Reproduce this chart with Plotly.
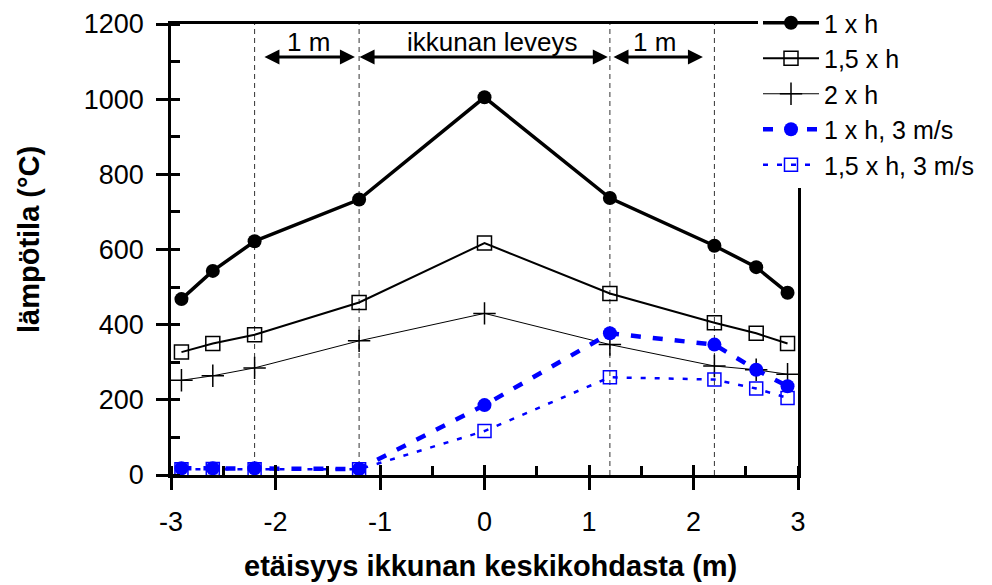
import plotly.graph_objects as go

# ---- data ----
x_pos = [-2.9, -2.6, -2.2, -1.2, 0, 1.2, 2.2, 2.6, 2.9]
s_1xh = [468, 543, 622, 733, 1005, 737, 610, 553, 485]
s_15xh = [327, 350, 373, 459, 617, 483, 405, 377, 350]
s_2xh = [252, 264, 285, 357, 430, 347, 290, 280, 268]
s_1xh_wind = [18, 18, 18, 16, 186, 377, 347, 280, 236]
s_15xh_wind = [15, 16, 15, 15, 117, 260, 254, 230, 205]
names = ["1 x h", "1,5 x h", "2 x h", "1 x h, 3 m/s", "1,5 x h, 3 m/s"]

window_edges = [-2.2, -1.2, 1.2, 2.2]
span_labels = ["1 m", "ikkunan leveys", "1 m"]
span_label_x = [-1.68, 0.08, 1.63]
span_starts = [-2.12, -1.21, 1.22]
span_ends = [-1.24, 1.18, 2.09]
span_arrow_y = 1112
span_label_y = 1152

FONT = "Liberation Sans, Arial, sans-serif"
BLUE = "#0000ff"

fig = go.Figure()
fig.add_trace(go.Scatter(x=x_pos, y=s_1xh, name=names[0], mode="lines+markers",
                         line=dict(color="black", width=3.5),
                         marker=dict(symbol="circle", size=14, color="black"),
                         legendgroup="a"))
fig.add_trace(go.Scatter(x=x_pos, y=s_15xh, name=names[1], mode="lines+markers",
                         line=dict(color="black", width=2),
                         marker=dict(symbol="square-open", size=14, color="black", line=dict(width=1.5)),
                         legendgroup="b"))
fig.add_trace(go.Scatter(x=x_pos, y=s_2xh, name=names[2], mode="lines+markers",
                         line=dict(color="black", width=1),
                         marker=dict(symbol="cross-thin-open", size=16, color="black", line=dict(width=1.5, color="black")),
                         legendgroup="c"))
fig.add_trace(go.Scatter(x=x_pos, y=s_1xh_wind, name=names[3], mode="lines+markers",
                         line=dict(color=BLUE, width=4.5, dash="10px,12px"),
                         marker=dict(symbol="circle", size=14, color=BLUE),
                         legendgroup="d"))
fig.add_trace(go.Scatter(x=x_pos, y=s_15xh_wind, name=names[4], mode="lines+markers",
                         line=dict(color=BLUE, width=2.5, dash="5px,9px"),
                         marker=dict(symbol="square-open", size=13, color=BLUE, line=dict(width=1.5)),
                         legendgroup="e"))

for xe in window_edges:
    fig.add_shape(type="line", x0=xe, x1=xe, y0=0, y1=1200, xref="x", yref="y",
                  line=dict(color="#333333", width=1, dash="5px,4px"), layer="below")

annotations = []
for lbl, lx, xs, xe in zip(span_labels, span_label_x, span_starts, span_ends):
    annotations.append(dict(x=xe, y=span_arrow_y, ax=xs, ay=span_arrow_y, xref="x", yref="y",
                            axref="x", ayref="y", text="", showarrow=True, arrowhead=2,
                            arrowside="end+start", arrowsize=1, arrowwidth=3, arrowcolor="black",
                            standoff=0, startstandoff=0))
    annotations.append(dict(x=lx, y=span_label_y, xref="x", yref="y", text=lbl, showarrow=False,
                            font=dict(size=26, color="black", family=FONT)))

W, H = 992, 585
L, R, T, B = 171, 194, 24, 110
pw, ph = W - L - R, H - T - B

def px_to_paper(px, py):
    return (px - L) / pw, (H - B - py) / ph

yt_x, yt_y = px_to_paper(29, 240)
xt_x, xt_y = px_to_paper(490, 566)
annotations.append(dict(x=yt_x, y=yt_y, xref="paper", yref="paper", text="<b>lämpötila (°C)</b>",
                        showarrow=False, textangle=-90, xanchor="center", yanchor="middle",
                        font=dict(size=29, color="black", family=FONT)))
annotations.append(dict(x=xt_x, y=xt_y, xref="paper", yref="paper",
                        text="<b>etäisyys ikkunan keskikohdasta (m)</b>",
                        showarrow=False, xanchor="center", yanchor="middle",
                        font=dict(size=29, color="black", family=FONT)))

fig.update_layout(
    width=W, height=H,
    margin=dict(l=L, r=R, t=T, b=B, pad=0, autoexpand=False),
    paper_bgcolor="white", plot_bgcolor="white",
    font=dict(family=FONT, size=26, color="black"),
    annotations=annotations,
    showlegend=True,
    legend=dict(xref="container", yref="container", x=758 / W, y=1, xanchor="left", yanchor="top",
                bgcolor="white", borderwidth=0, font=dict(size=25, family=FONT),
                traceorder="grouped", tracegroupgap=0, itemwidth=56),
    xaxis=dict(range=[-3, 3], tickvals=[-3, -2, -1, 0, 1, 2, 3], ticktext=["-3", "-2", "-1", "0", "1", "2", "3"],
               showgrid=False, zeroline=False, showline=True, linecolor="black", linewidth=2.5, mirror=True,
               ticks="outside", ticklen=12, tickwidth=2.5, tickcolor="black",
               minor=dict(dtick=0.5, ticks="inside", ticklen=9, tickwidth=2.5, tickcolor="black", showgrid=False),
               tickfont=dict(size=27), ticklabelstandoff=9),
    yaxis=dict(range=[0, 1200], tickvals=[0, 200, 400, 600, 800, 1000, 1200],
               showgrid=False, zeroline=False, showline=True, linecolor="black", linewidth=2.5, mirror=True,
               ticks="outside", ticklen=12, tickwidth=2.5, tickcolor="black",
               minor=dict(dtick=100, ticks="inside", ticklen=9, tickwidth=2.5, tickcolor="black", showgrid=False),
               tickfont=dict(size=27), ticklabelstandoff=7),
    xaxis2=dict(range=[-3, 3], overlaying="x", tickvals=[-3, -2, -1, 0, 1, 2, 3], showticklabels=False,
                ticks="inside", ticklen=10, tickwidth=2.5, tickcolor="black", showgrid=False, zeroline=False,
                showline=False, side="bottom"),
    yaxis2=dict(range=[0, 1200], overlaying="y", tickvals=[0, 200, 400, 600, 800, 1000, 1200],
                showticklabels=False, ticks="inside", ticklen=9, tickwidth=2.5, tickcolor="black",
                showgrid=False, zeroline=False, showline=False, side="left"),
)
fig.add_trace(go.Scatter(x=[None], y=[None], xaxis="x2", yaxis="y2", showlegend=False, hoverinfo="skip"))

fig.write_html("out.html")
